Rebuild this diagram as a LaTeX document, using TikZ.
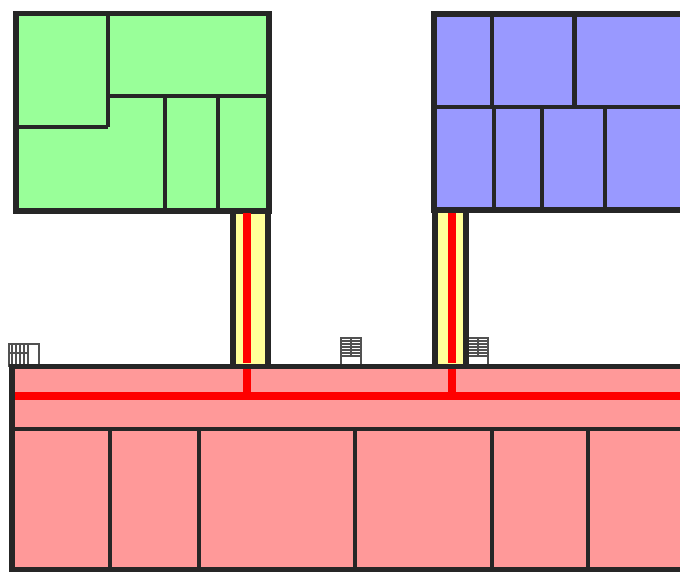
\documentclass[tikz,border=0pt]{standalone}
\usepackage{tikz}
\definecolor{roomgreen}{RGB}{153,255,153}
\definecolor{roomblue}{RGB}{153,153,255}
\definecolor{roomred}{RGB}{255,153,153}
\definecolor{hallyellow}{RGB}{255,255,153}
\definecolor{wallgrey}{RGB}{38,38,38}
\tikzset{
	wall/.style={draw=wallgrey, line width=5.4pt},
	inner/.style={draw=wallgrey, line width=4.4pt},
	route/.style={draw=red, line width=8pt},
	stair/.style={draw=wallgrey!80, line width=1.5pt},
	tread/.style={draw=wallgrey!80, line width=1.4pt}
}
\begin{document}
\begin{tikzpicture}[x=1pt, y=-1pt]
	\useasboundingbox (0,0) rectangle (680,572);
	\clip (0,0) rectangle (680,572);
	% stairs
	\draw[stair] (9,344) rectangle (39,366);
	\foreach \x in {12,16,20,24,28}
		\draw[tread] (\x,344) -- (\x,364);
	\draw[tread] (9,353) -- (28,353);
	\foreach \x in {341,468}{
		\draw[stair] (\x,338) rectangle (\x+20,365);
		\draw[tread] (\x+10,338) -- (\x+10,356);
		\foreach \y in {341,344,347,350,353,356}
			\draw[tread] (\x,\y) -- (\x+20,\y);
	}
	% corridors
	\fill[hallyellow] (233,211) rectangle (268,366);
	\fill[hallyellow] (435,211) rectangle (466,366);
	\draw[wall] (233,211) -- (233,366);
	\draw[wall] (268,211) -- (268,366);
	\draw[wall] (435,211) -- (435,366);
	\draw[wall] (466,211) -- (466,366);
	% green block
	\draw[wall, fill=roomgreen] (16,13.5) rectangle (269,211);
	\draw[inner] (108,13.5) -- (108,127);
	\draw[inner] (16,127) -- (108,127);
	\draw[inner] (108,96) -- (269,96);
	\draw[inner] (165,96) -- (165,211);
	\draw[inner] (218,96) -- (218,211);
	% blue block
	\draw[wall, fill=roomblue] (434,14) rectangle (700,210);
	\draw[inner] (492,14) -- (492,107);
	\draw[inner] (574.5,14) -- (574.5,107);
	\draw[inner] (434,107) -- (680,107);
	\draw[inner] (494,107) -- (494,210);
	\draw[inner] (542,107) -- (542,210);
	\draw[inner] (605,107) -- (605,210);
	% red block
	\draw[wall, fill=roomred] (12,366.5) rectangle (700,570);
	\draw[inner] (12,429) -- (680,429);
	\foreach \x in {110,199,355,492,588}
		\draw[inner] (\x,429) -- (\x,570);
	% routes
	\draw[route] (15,396) -- (680,396);
	\draw[route] (247,213) -- (247,363);
	\draw[route] (247,369) -- (247,396);
	\draw[route] (452,213) -- (452,363);
	\draw[route] (452,369) -- (452,396);
\end{tikzpicture}
\end{document}
